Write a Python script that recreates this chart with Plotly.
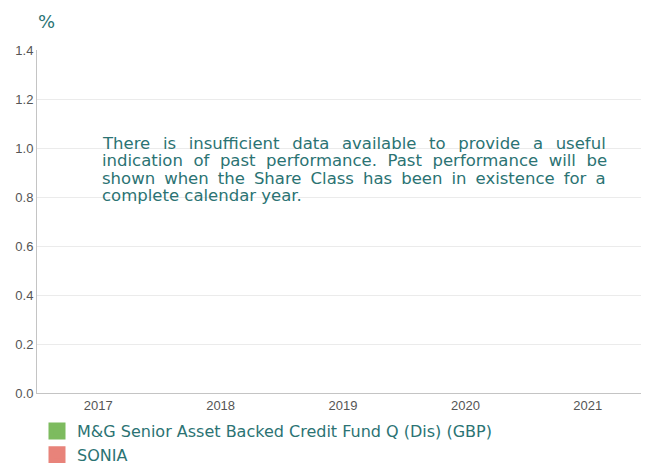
import plotly.graph_objects as go

years = ["2017", "2018", "2019", "2020", "2021"]
fund_values = [None, None, None, None, None]
sonia_values = [None, None, None, None, None]
fund_name = "M&G Senior Asset Backed Credit Fund Q (Dis) (GBP)"
bench_name = "SONIA"
y_ticks = [0.0, 0.2, 0.4, 0.6, 0.8, 1.0, 1.2, 1.4]
message_lines = [
    "There is insufficient data available to provide a useful",
    "indication of past performance. Past performance will be",
    "shown when the Share Class has been in existence for a",
    "complete calendar year.",
]
# extra word spacing (px) per line to mimic the justified paragraph
line_word_spacing = [7.4, 5.3, 3.8, 0]

teal = "#2b7373"
green = "#7dbb5f"
salmon = "#e8837a"
body_font = "DejaVu Sans, Verdana, sans-serif"
tick_font = dict(family="Liberation Sans, Arial", size=13, color="#555555")

# figure is placed inside a page body with an 8px margin
W, H = 641, 455
ML, MT, MB, MR = 29, 42, 70, 0
plot_h = H - MT - MB
plot_w = W - ML - MR

fig = go.Figure()
fig.add_trace(go.Bar(x=years, y=fund_values, name=fund_name, marker_color=green,
                     marker_line=dict(color=green, width=6)))
fig.add_trace(go.Bar(x=years, y=sonia_values, name=bench_name, marker_color=salmon,
                     marker_line=dict(color=salmon, width=6)))

annotations = [
    dict(text="%", xref="paper", yref="paper", x=-0.0016, y=1 + (MT - 14) / plot_h,
         xanchor="left", yanchor="middle", showarrow=False,
         font=dict(family=body_font, size=18, color=teal)),
]
line_gap = 17.3
first_baseline = 141
for i, line in enumerate(message_lines):
    yb = first_baseline + i * line_gap - 5.5
    ws = line_word_spacing[i]
    txt = f'<span style="word-spacing:{ws}px">{line}</span>' if ws else line
    annotations.append(dict(
        text=txt, xref="paper", yref="paper", x=(92 - ML) / plot_w,
        y=(MT + plot_h - yb) / plot_h, xanchor="left", yanchor="middle",
        align="left", showarrow=False, font=dict(family=body_font, size=16.5, color=teal)))

fig.update_layout(
    width=W, height=H,
    margin=dict(l=ML, r=MR, t=MT, b=MB, autoexpand=False),
    paper_bgcolor="white", plot_bgcolor="white",
    showlegend=True,
    legend=dict(x=0.0, y=1 - 406 / H, xref="paper", yref="container",
                xanchor="left", yanchor="top",
                font=dict(family=body_font, size=16, color=teal),
                tracegroupgap=0, bgcolor="rgba(0,0,0,0)", borderwidth=0),
    xaxis=dict(type="category", range=[-0.5, 4.5], showgrid=False, automargin=False,
               showline=True, linecolor="#c4c4c4", linewidth=1,
               ticks="", tickfont=tick_font, fixedrange=True),
    yaxis=dict(range=[0, 1.4], tickvals=y_ticks, ticktext=[f"{v:.1f}" for v in y_ticks],
               automargin=False, showgrid=True, gridcolor="#ebebeb", gridwidth=1,
               showline=True, linecolor="#c4c4c4", linewidth=1, zeroline=False,
               ticks="", tickfont=tick_font),
    annotations=annotations,
)

fig.write_html("out.html")
